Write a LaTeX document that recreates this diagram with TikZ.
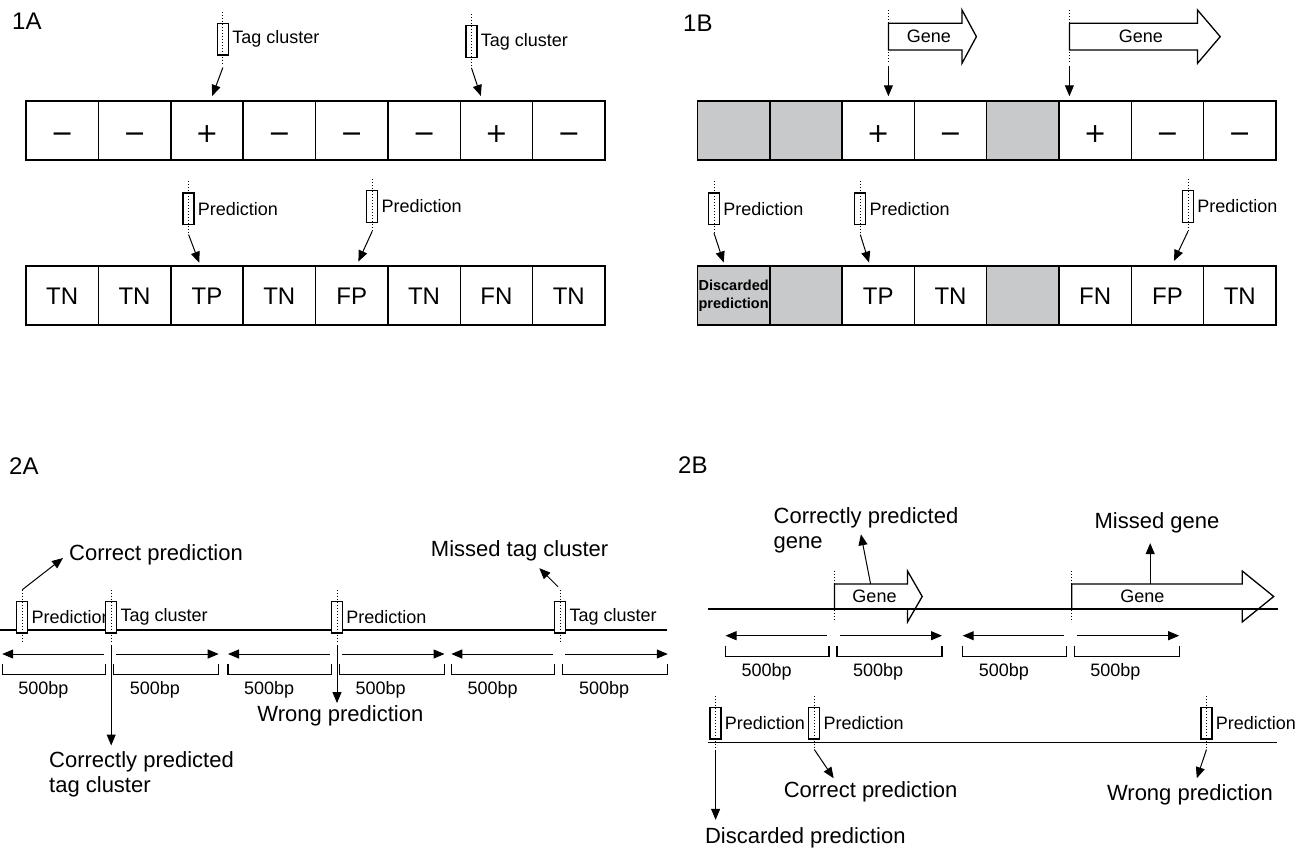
\documentclass[tikz,border=0pt]{standalone}
\usepackage{fontspec}
\setmainfont{Liberation Sans}
\newfontfamily\signFont{DejaVu Sans}
\usetikzlibrary{arrows.meta,calc}
\definecolor{cellGray}{RGB}{200,201,203}
\tikzstyle{canvas} = [x=1pt, y=-1pt]
\tikzstyle{cellStyle} = [draw, line width=1.5pt, inner sep=0pt, minimum height=59pt, text height=17pt, text depth=0pt, font=\fontsize{24}{28}\selectfont]
\tikzstyle{markerBox} = [draw, line width=1.3pt, fill=white, inner sep=0pt, minimum width=11pt, minimum height=31.5pt, anchor=north]
\tikzstyle{markerDots} = [line width=1pt, dotted]
\tikzstyle{pointer} = [line width=1pt, -{Triangle[length=11pt, width=9pt]}]
\tikzstyle{bracketStyle} = [line width=1.3pt]
\tikzstyle{baseLine} = [line width=1.5pt]
\tikzstyle{geneStyle} = [draw, line width=1.3pt, fill=white]
\tikzstyle{smallLabel} = [font=\fontsize{18}{21}\selectfont, inner sep=0pt]
\tikzstyle{bigLabel} = [font=\fontsize{22}{25}\selectfont, inner sep=0pt, align=left]
\tikzstyle{panelLabel} = [font=\fontsize{24}{28}\selectfont, inner sep=0pt, anchor=north west]
\tikzstyle{discardStyle} = [font=\bfseries\fontsize{14.5}{17.7}\selectfont, inner sep=0pt, align=center]
\newcommand{\signText}[1]{\raisebox{-3.5pt}{\signFont\fontsize{27}{30}\selectfont #1}}
\newcommand{\cellRow}[5]{
  \foreach \cellFill/\cellText [count=\i] in {#5} {
    \node [cellStyle, fill=\cellFill, minimum width=#4pt] (#1\i) at (#2 + #4 * \i - #4 / 2, #3 + 29.5) {\cellText};
  }
}
\newcommand{\marker}[4]{
  \node [markerBox] (#1) at (#2, #3) {};
  \draw [markerDots] ($(#1.north) + (0,-11)$) -- ($(#1.south) + (0,8)$);
  \node [smallLabel, anchor=west] (#1Text) at ($(#1.east) + (3,0)$) {#4};
}
\newcommand{\geneArrow}[8]{
  \pgfmathsetmacro{\geneMid}{(#3 + #4) / 2}
  \filldraw [geneStyle] (#2, #3) -- (#5, #3) -- (#5, \geneMid - #7) -- (#6, \geneMid) -- (#5, \geneMid + #7) -- (#5, #4) -- (#2, #4) -- cycle;
  \draw [markerDots] (#2, \geneMid - #7) -- (#2, \geneMid + #7);
  \coordinate (#1Foot) at (#2, \geneMid + #7 + 3);
  \node [smallLabel] (#1Text) at (#8, \geneMid) {Gene};
}
\newcommand{\bpWindow}[3]{
  \coordinate (#1InL) at (#2 - 7.5, #3);
  \coordinate (#1OutL) at (#2 - 109, #3);
  \coordinate (#1InR) at (#2 + 5, #3);
  \coordinate (#1OutR) at (#2 + 107.5, #3);
  \draw [pointer] (#1InL) -- (#1OutL);
  \draw [pointer] (#1InR) -- (#1OutR);
  \draw [bracketStyle] (#2 - 109, #3 + 10) |- (#2 - 5.5, #3 + 20.5) -- (#2 - 5.5, #3 + 10);
  \draw [bracketStyle] (#2 + 2.5, #3 + 10) |- (#2 + 107.5, #3 + 20.5) -- (#2 + 107.5, #3 + 10);
  \node [smallLabel, anchor=west] (#1Left) at (#2 - 93, #3 + 36) {500bp};
  \node [smallLabel, anchor=west] (#1Right) at (#2 + 18.5, #3 + 36) {500bp};
}
\begin{document}
\begin{tikzpicture}[canvas]
  \useasboundingbox (0,0) rectangle (1299,849);

  \node [panelLabel] (labelA1) at (12,13) {1A};
  \cellRow{topA}{26}{101}{72.375}{white/\signText{−},white/\signText{−},white/\signText{+},white/\signText{−},white/\signText{−},white/\signText{−},white/\signText{+},white/\signText{−}}
  \cellRow{botA}{26}{266}{72.375}{white/TN,white/TN,white/TP,white/TN,white/FP,white/TN,white/FN,white/TN}
  \marker{tagA1}{222.9}{22.7}{Tag cluster}
  \marker{tagA2}{471.4}{25}{Tag cluster}
  \marker{predA1}{188.6}{192.3}{Prediction}
  \marker{predA2}{372.2}{190}{Prediction}
  \draw [pointer] ($(tagA1.south) + (0,12)$) -- ($(topA3.north) + (5.3,-4.3)$);
  \draw [pointer] ($(tagA2.south) + (0,10)$) -- ($(topA7.north) + (-15.6,-4.3)$);
  \draw [pointer] ($(predA1.south) + (0,9.5)$) -- ($(botA3.north) + (-7.7,-2.5)$);
  \draw [pointer] ($(predA2.south) + (0,8.5)$) -- ($(botA5.north) + (6.7,-3.7)$);

  \node [panelLabel] (labelB1) at (683,15) {1B};
  \cellRow{topB}{697.5}{101}{72.3}{cellGray/,cellGray/,white/\signText{+},white/\signText{−},cellGray/,white/\signText{+},white/\signText{−},white/\signText{−}}
  \cellRow{botB}{697.5}{266}{72.3}{cellGray/,cellGray/,white/TP,white/TN,cellGray/,white/FN,white/FP,white/TN}
  \node [discardStyle] (discardText) at (botB1) {Discarded\\prediction};
  \geneArrow{geneB1}{888.4}{23.3}{50}{962}{976.4}{26.65}{928.9}
  \geneArrow{geneB2}{1069.4}{23.3}{50}{1197.5}{1220.2}{26.65}{1140.9}
  \draw [pointer] (geneB1Foot) -- ($(geneB1Foot |- topB3.north) + (0,-4)$);
  \draw [pointer] (geneB2Foot) -- ($(geneB2Foot |- topB6.north) + (0,-4)$);
  \marker{predB1}{714}{192.3}{Prediction}
  \marker{predB2}{860.3}{192.3}{Prediction}
  \marker{predB3}{1188}{190}{Prediction}
  \draw [pointer] ($(predB1.south) + (0,8)$) -- ($(botB1.north) + (-10,-2.7)$);
  \draw [pointer] ($(predB2.south) + (0,9.5)$) -- ($(botB3.north) + (-9.2,-2.7)$);
  \draw [pointer] ($(predB3.south) + (0,8.5)$) -- ($(botB7.north) + (6.5,-4.3)$);

  \node [panelLabel] (labelA2) at (9,458) {2A};
  \coordinate (lineAStart) at (0,630);
  \coordinate (lineAEnd) at (667.4,630);
  \draw [baseLine] (lineAStart) -- (lineAEnd);
  \marker{predC1}{22.3}{600.7}{Prediction}
  \marker{tagC1}{111.2}{600.7}{Tag cluster}
  \marker{predC2}{337}{600.7}{Prediction}
  \marker{tagC2}{560.3}{600.7}{Tag cluster}
  \bpWindow{winC1}{111.2}{654}
  \bpWindow{winC2}{337}{654}
  \bpWindow{winC3}{560.3}{654}
  \node [bigLabel, anchor=west] (correctA) at (69,555) {Correct prediction};
  \node [bigLabel, anchor=north west] (correctlyA) at (49,751.5) {Correctly predicted\\tag cluster};
  \node [bigLabel] (wrongA) at (340.4,716) {Wrong prediction};
  \node [bigLabel] (missedA) at (519.6,550.7) {Missed tag cluster};
  \draw [pointer] ($(predC1.north) + (0,-11)$) -- ($(correctA.west) + (-6,3)$);
  \draw [pointer] ($(tagC1.south) + (0,11.5)$) -- ($(tagC1.south |- correctlyA.north) + (0,-6)$);
  \draw [pointer] ($(predC2.south) + (0,11.5)$) -- ($(predC2.south |- wrongA.north) + (0,-2.5)$);
  \draw [pointer] ($(tagC2.north) + (-2.3,-14)$) -- ($(missedA.south) + (19.7,7)$);

  \node [panelLabel] (labelB2) at (678,457) {2B};
  \geneArrow{geneD1}{834.5}{584}{609}{907.5}{922.2}{25.5}{874.5}
  \geneArrow{geneD2}{1071.7}{584}{609}{1242.2}{1273.7}{25.5}{1142.4}
  \coordinate (lineBStart) at (707.5,609);
  \coordinate (lineBEnd) at (1278.3,609);
  \draw [baseLine] (lineBStart) -- (lineBEnd);
  \bpWindow{winD1}{834.5}{635.7}
  \bpWindow{winD2}{1071.7}{635.7}
  \coordinate (lineCStart) at (707.5,742.7);
  \coordinate (lineCEnd) at (1277.2,742.7);
  \draw [baseLine] (lineCStart) -- (lineCEnd);
  \marker{predD1}{715.6}{706.7}{Prediction}
  \marker{predD2}{814.3}{706.7}{Prediction}
  \marker{predD3}{1206.5}{706.7}{Prediction}
  \node [bigLabel, anchor=north west] (correctlyB) at (773.5,507) {Correctly predicted\\gene};
  \node [bigLabel] (missedB) at (1157,522.7) {Missed gene};
  \node [bigLabel, anchor=west] (discardB) at (704.8,838.3) {Discarded prediction};
  \node [bigLabel] (correctB) at (870.6,792.3) {Correct prediction};
  \node [bigLabel] (wrongB) at (1190,795) {Wrong prediction};
  \coordinate (correctlyFoot) at (870.6,584);
  \coordinate (missedFoot) at (1150.2,584);
  \draw [pointer] (correctlyFoot) -- ($(correctlyB.north west) + (87.4,27.3)$);
  \draw [pointer] (missedFoot) -- ($(missedFoot |- missedB.south) + (0,10)$);
  \draw [pointer] ($(predD1.south) + (0,10)$) -- ($(predD1.south |- discardB.north) + (0,-8)$);
  \draw [pointer] ($(predD2.south) + (0,10)$) -- ($(correctB.north) + (-36.9,-3.6)$);
  \draw [pointer] ($(predD3.south) + (0,10)$) -- ($(wrongB.north) + (6.8,-6.3)$);
\end{tikzpicture}
\end{document}
